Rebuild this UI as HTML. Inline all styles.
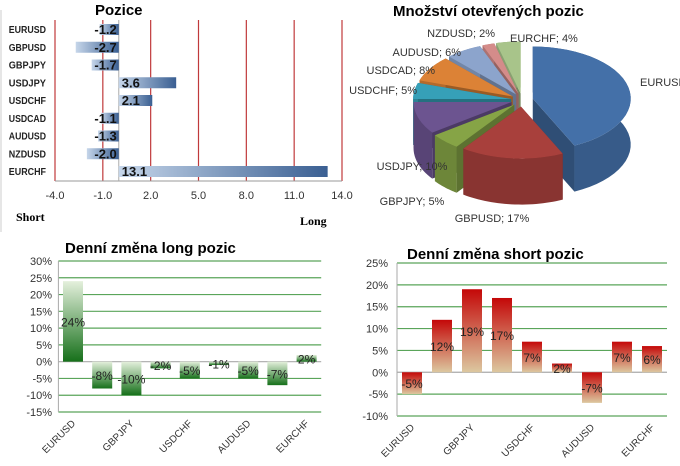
<!DOCTYPE html>
<html><head><meta charset="utf-8"><style>
body{margin:0;background:#fff;width:680px;height:466px;overflow:hidden;font-family:"Liberation Sans",sans-serif}
svg{position:absolute;left:0;top:0}
</style></head><body>
<svg id="s" width="680" height="466" xmlns="http://www.w3.org/2000/svg">
<defs>
<linearGradient id="gb" x1="0" x2="1" y1="0" y2="0"><stop offset="0" stop-color="#c6d6ea"/><stop offset="1" stop-color="#3a5f92"/></linearGradient>
<linearGradient id="gg" x1="0" x2="0" y1="0" y2="1"><stop offset="0" stop-color="#e4f0dc"/><stop offset="1" stop-color="#16701a"/></linearGradient>
<linearGradient id="gr" x1="0" x2="0" y1="0" y2="1"><stop offset="0" stop-color="#c40808"/><stop offset="1" stop-color="#dcc8a0"/></linearGradient>
</defs>
<line x1="1" y1="10" x2="1" y2="232" stroke="#ccc"/>
<g id="c1"></g>
<g id="c2"></g>
<g id="c3"></g>
<g id="c4"></g>
</svg>
<script>
const posCats=["EURUSD","GBPUSD","GBPJPY","USDJPY","USDCHF","USDCAD","AUDUSD","NZDUSD","EURCHF"];
const posVals=[-1.2,-2.7,-1.7,3.6,2.1,-1.1,-1.3,-2.0,13.1];
const posTicks=[-4,-1,2,5,8,11,14];
const pieCats=["EURUSD","GBPUSD","GBPJPY","USDJPY","USDCHF","USDCAD","AUDUSD","NZDUSD","EURCHF"];
const pieVals=[43,17,5,10,5,8,6,2,4];
const pieColors=["#4470a8","#a8403c","#86a446","#6c5490","#36a0b8","#dc8236","#8ca4cc","#d48c8a","#a8c48a"];
const chgCats=["EURUSD","GBPUSD","GBPJPY","USDJPY","USDCHF","USDCAD","AUDUSD","NZDUSD","EURCHF"];
const longVals=[24,-8,-10,-2,-5,-1,-5,-7,2];
const longTicks=[30,25,20,15,10,5,0,-5,-10,-15];
const shortVals=[-5,12,19,17,7,2,-7,7,6];
const shortTicks=[25,20,15,10,5,0,-5,-10];
const NS="http://www.w3.org/2000/svg";
function mk(p,t,a,txt){const e=document.createElementNS(NS,t);for(const k in a)e.setAttribute(k,a[k]);if(txt!==undefined)e.textContent=txt;p.appendChild(e);return e;}

// Chart 1: positions
(function(){
const g=document.getElementById('c1');
const X=v=>55+(v+4)*(287/18);
const Y=i=>29+i*17.75;
let t=mk(g,'text',{x:95,y:15,'font-size':15,'font-weight':'bold'},'Pozice');

posTicks.forEach(v=>{
 let l=mk(g,'line',{x1:X(v),x2:X(v),y1:20,y2:181,stroke:'#c0393b','stroke-width':1.2});
 
 let tt=mk(g,'text',{x:X(v),y:199,'font-size':11,'text-anchor':'middle',fill:'#333'},v.toFixed(1));
 
});
mk(g,'line',{x1:55,x2:342,y1:181,y2:181,stroke:'#999'});
mk(g,'line',{x1:X(0),x2:X(0),y1:20,y2:181,stroke:'#aaa'});
posCats.forEach((c,i)=>{
 const v=posVals[i],x0=Math.min(X(0),X(v)),w=Math.abs(X(v)-X(0));
 let b=mk(g,'rect',{x:x0,y:Y(i)-5,width:w,height:11,fill:'url(#gb)'});
 
 const tl=c.length*6.2;
 let lab=mk(g,'text',{x:46-tl,y:Y(i)+4,'font-size':10,'font-weight':'bold',textLength:tl,lengthAdjust:'spacingAndGlyphs',fill:'#222'},c);
 
 let vl=mk(g,'text',{x:v<0?X(0)-2:X(0)+3,y:Y(i)+5,'font-size':13,'font-weight':'bold','text-anchor':v<0?'end':'start',fill:'#111'},v.toFixed(1));
 
});
let s=mk(g,'text',{x:16,y:221,'font-size':12,'font-weight':'bold','font-family':'Liberation Serif'},'Short');

let lg=mk(g,'text',{x:300,y:225,'font-size':12,'font-weight':'bold','font-family':'Liberation Serif'},'Long');

})();

// Chart 2: 3D pie
(function(){
const g=document.getElementById('c2');
let t=mk(g,'text',{x:393,y:16,'font-size':15,'font-weight':'bold'},'Množství otevřených pozic');

const cx=522,cy=100,rx=98,ry=52,D=46,EX=11;
const tot=pieVals.reduce((a,b)=>a+b,0);
function dark(h,f){const n=parseInt(h.slice(1),16);const r=(n>>16)*f|0,gg=((n>>8)&255)*f|0,b=(n&255)*f|0;return `rgb(${r},${gg},${b})`;}
let a=0;const sl=[];
pieVals.forEach((v,i)=>{const a0=a,a1=a+v/tot*2*Math.PI;a=a1;sl.push({i,a0,a1,m:(a0+a1)/2});});
const P=(s,th,dy)=>[s.ox+rx*Math.sin(th),s.oy-ry*Math.cos(th)+dy];
sl.forEach(s=>{s.ox=cx+EX*Math.sin(s.m);s.oy=cy-EX*0.6*Math.cos(s.m);});
sl.slice().sort((p,q)=>(-Math.cos(p.m))-(-Math.cos(q.m))).forEach(s=>{
 const col=pieColors[s.i],N=30,top=[],bot=[];
 for(let k=0;k<=N;k++){const th=s.a0+(s.a1-s.a0)*k/N;top.push(P(s,th,0));bot.push(P(s,th,D));}
 const c0=[s.ox,s.oy],c1=[s.ox,s.oy+D];
 const pts=a=>a.map(p=>p.join(',')).join(' ');
 mk(g,'polygon',{points:pts([c0,top[0],bot[0],c1]),fill:dark(col,0.7)});
 mk(g,'polygon',{points:pts([c0,top[N],bot[N],c1]),fill:dark(col,0.7)});
 mk(g,'polygon',{points:pts(top.concat(bot.slice().reverse())),fill:dark(col,0.82)});
 let f=mk(g,'polygon',{points:pts([c0].concat(top)),fill:col});
 
});
const labs=[[640,86,'start'],[492,222,'middle'],[412,205,'middle'],[412,170,'middle'],[417,94,'end'],[435,74,'end'],[461,56,'end'],[495,37,'end'],[510,42,'start']];
pieCats.forEach((c,i)=>{
 let l=mk(g,'text',{x:labs[i][0],y:labs[i][1],'font-size':11,'text-anchor':labs[i][2],fill:'#333'},c+'; '+pieVals[i]+'%');
 
});
})();

function barChart(gid,title,tx,ty,vals,ticks,x0,step,yTop,yBot,grad,labelX){
 const g=document.getElementById(gid);
 const vmax=ticks[0],vmin=ticks[ticks.length-1];
 const Y=v=>yTop+(vmax-v)*(yBot-yTop)/(vmax-vmin);
 const X=i=>x0+step*(i+0.5);
 const xr=x0+step*chgCats.length;
 let t=mk(g,'text',{x:tx,y:ty,'font-size':15,'font-weight':'bold'},title);
 
 ticks.forEach(v=>{
  let l=mk(g,'line',{x1:x0,x2:xr,y1:Y(v),y2:Y(v),stroke:v===0?'#aaa':'#5aa55a','stroke-width':1.2});
  
  let tl=mk(g,'text',{x:labelX,y:Y(v)+4,'font-size':11,'text-anchor':'end',fill:'#333'},v+'%');
  
 });
 mk(g,'line',{x1:x0,x2:x0,y1:Y(vmax),y2:Y(vmin),stroke:'#aaa'});
 chgCats.forEach((c,i)=>{
  const v=vals[i],y0=Math.min(Y(0),Y(v)),h=Math.abs(Y(v)-Y(0));
  let b=mk(g,'rect',{x:X(i)-10,y:y0,width:20,height:h,fill:grad});
  
  let vl=mk(g,'text',{x:X(i),y:(Y(0)+Y(v))/2+5,'font-size':12,'text-anchor':'middle',fill:'#222'},v+'%');
  
  if(i%2===0){
   const ly=Y(vmin)+12;
   let xl=mk(g,'text',{x:X(i)+3,y:ly,'font-size':10,'text-anchor':'end',fill:'#333',transform:`rotate(-45 ${X(i)+3} ${ly})`},c);
   
  }
 });
}
barChart('c3','Denní změna long pozic',65,253,longVals,longTicks,58.4,29.2,261,412,'url(#gg)',52);
barChart('c4','Denní změna short pozic',407,259,shortVals,shortTicks,397,30,263,416,'url(#gr)',388);
</script>
</body></html>
